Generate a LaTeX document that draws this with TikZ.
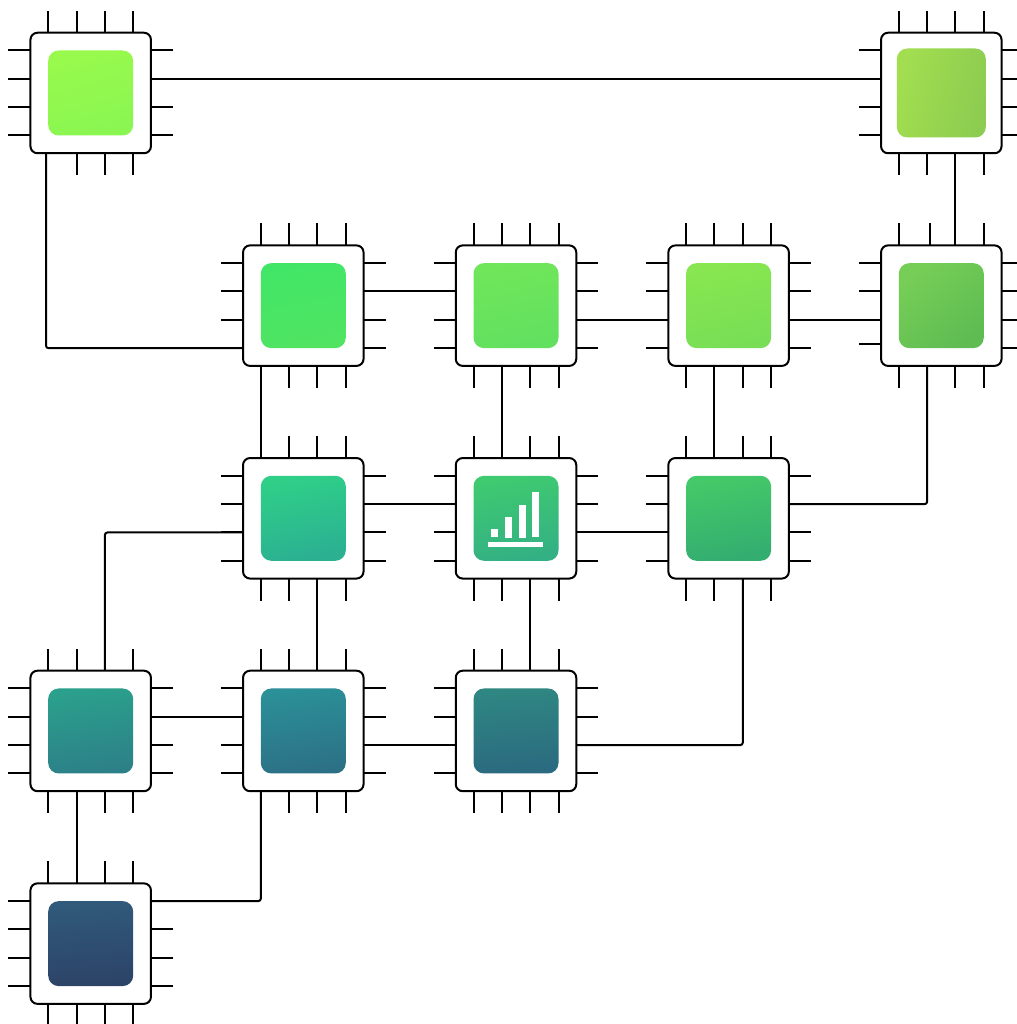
\documentclass[tikz,border=0pt]{standalone}
\usetikzlibrary{calc}
\tikzset{
  wire/.style={black,line width=2pt,rounded corners=2.5pt},
  pin/.style={black,line width=2pt},
  chipbox/.style={draw=black,fill=white,line width=2pt,rounded corners=7pt,minimum size=120.5pt,inner sep=0pt,outer sep=0pt},
  core/.style={rounded corners=10.5pt,inner sep=0pt,outer sep=0pt},
  bar/.style={fill=white}
}
\newcommand{\stdpins}{1/-42.5,2/-14.17,3/14.17,4/42.5}
\newcommand{\tstubs}{1/-42.5,2/-14.17,3/14.17,4/42.5}
\newcommand{\lstubs}{1/-42.5,2/-14.17,3/14.17,4/42.5}
\newcommand{\bstubs}{1/-42.5,2/-14.17,3/14.17,4/42.5}
% name, centre x, centre y, first colour, second colour, angle, core size
\newcommand{\chipat}[7]{%
  \foreach \i/\o in \stdpins{%
    \coordinate (#1-t\i) at ({#2+\o},{#3-60.25});
    \coordinate (#1-b\i) at ({#2+\o},{#3+60.25});
    \coordinate (#1-l\i) at ({#2-60.25},{#3+\o});
    \coordinate (#1-r\i) at ({#2+60.25},{#3+\o});
    \draw[pin] (#1-r\i) -- ++(22,0);
  }%
  \foreach \i/\o in \tstubs{\draw[pin] ({#2+\o},{#3-60.25}) -- ++(0,-22);}%
  \foreach \i/\o in \bstubs{\draw[pin] ({#2+\o},{#3+60.25}) -- ++(0,22);}%
  \foreach \i/\o in \lstubs{\draw[pin] ({#2-60.25},{#3+\o}) -- ++(-22,0);}%
  \node[chipbox] (#1) at (#2,#3) {};
  \node[core,minimum size=#7pt,top color=#4,bottom color=#5,shading angle=#6] (#1core) at (#1.center) {};
}
\definecolor{a1}{HTML}{98FA4C}\definecolor{a2}{HTML}{8AF652}
\definecolor{b1}{HTML}{A2DE50}\definecolor{b2}{HTML}{8CCC50}
\definecolor{c1}{HTML}{42E666}\definecolor{c2}{HTML}{50E462}
\definecolor{d1}{HTML}{70E65A}\definecolor{d2}{HTML}{62E060}
\definecolor{e1}{HTML}{88E750}\definecolor{e2}{HTML}{78DE56}
\definecolor{f1}{HTML}{76CE56}\definecolor{f2}{HTML}{5EBC52}
\definecolor{g1}{HTML}{2FCF88}\definecolor{g2}{HTML}{2BB092}
\definecolor{h1}{HTML}{3FCA70}\definecolor{h2}{HTML}{33B084}
\definecolor{i1}{HTML}{44C968}\definecolor{i2}{HTML}{33AD70}
\definecolor{j1}{HTML}{2BA08C}\definecolor{j2}{HTML}{2C8088}
\definecolor{k1}{HTML}{2B9098}\definecolor{k2}{HTML}{2C7085}
\definecolor{l1}{HTML}{2F8782}\definecolor{l2}{HTML}{2B6A80}
\definecolor{m1}{HTML}{305A7B}\definecolor{m2}{HTML}{2C4367}
\begin{document}
\begin{tikzpicture}[x=1pt,y=-1pt]
\useasboundingbox (0,0) rectangle (1016,1024);
\begin{scope}
\renewcommand{\bstubs}{2/-14.17,3/14.17,4/42.5}
\chipat{A}{90.7}{93}{a1}{a2}{15}{85}
\end{scope}
\chipat{B}{941.3}{93}{b1}{b2}{75}{89}
\chipat{C}{303.3}{305.65}{c1}{c2}{12}{85}
\chipat{D}{516}{305.65}{d1}{d2}{12}{85}
\chipat{E}{728.6}{305.65}{e1}{e2}{12}{85}
\begin{scope}
\renewcommand{\tstubs}{1/-42.5,2/-11.3,3/14.17,4/42.5}
\renewcommand{\lstubs}{1/-42.5,2/-14.17,3/14.17,4/38.5}
\chipat{F}{941.3}{305.65}{f1}{f2}{40}{85}
\end{scope}
\chipat{G}{303.3}{518.3}{g1}{g2}{12}{85}
\chipat{H}{516}{518.3}{h1}{h2}{10}{85}
\chipat{I}{728.6}{518.3}{i1}{i2}{10}{85}
\chipat{J}{90.7}{730.95}{j1}{j2}{8}{85}
\chipat{K}{303.3}{730.95}{k1}{k2}{8}{85}
\chipat{L}{516}{730.95}{l1}{l2}{4}{85}
\chipat{M}{90.7}{943.6}{m1}{m2}{4}{85}
\coordinate (A-c) at (46,153.25);
% connectors
\draw[wire] (A-r2) -- (B-l2);
\draw[wire] (A-c) |- (C-l4);
\draw[wire] (B-b3) -- (F-t3);
\draw[wire] (C-r2) -- (D-l2);
\draw[wire] (D-r3) -- (E-l3);
\draw[wire] (E-r3) -- (F-l3);
\draw[wire] (C-b1) -- (G-t1);
\draw[wire] (D-b2) -- (H-t2);
\draw[wire] (E-b2) -- (I-t2);
\draw[wire] (F-b2) |- (I-r2);
\draw[wire] (G-r2) -- (H-l2);
\draw[wire] (H-r3) -- (I-l3);
\draw[wire] (G-l3) -| (J-t3);
\draw[wire] (G-b3) -- (K-t3);
\draw[wire] (H-b3) -- (L-t3);
\draw[wire] (I-b3) |- (L-r3);
\draw[wire] (J-r2) -- (K-l2);
\draw[wire] (K-r3) -- (L-l3);
\draw[wire] (J-b2) -- (M-t2);
\draw[wire] (K-b1) |- (M-r1);
% bar chart icon
\fill[bar] (491,529) rectangle (498,537);
\fill[bar] (505,517) rectangle (512,538);
\fill[bar] (519,505) rectangle (526,538);
\fill[bar] (532,492) rectangle (539,537);
\fill[bar] (488,542) rectangle (543,547);
\end{tikzpicture}
\end{document}
